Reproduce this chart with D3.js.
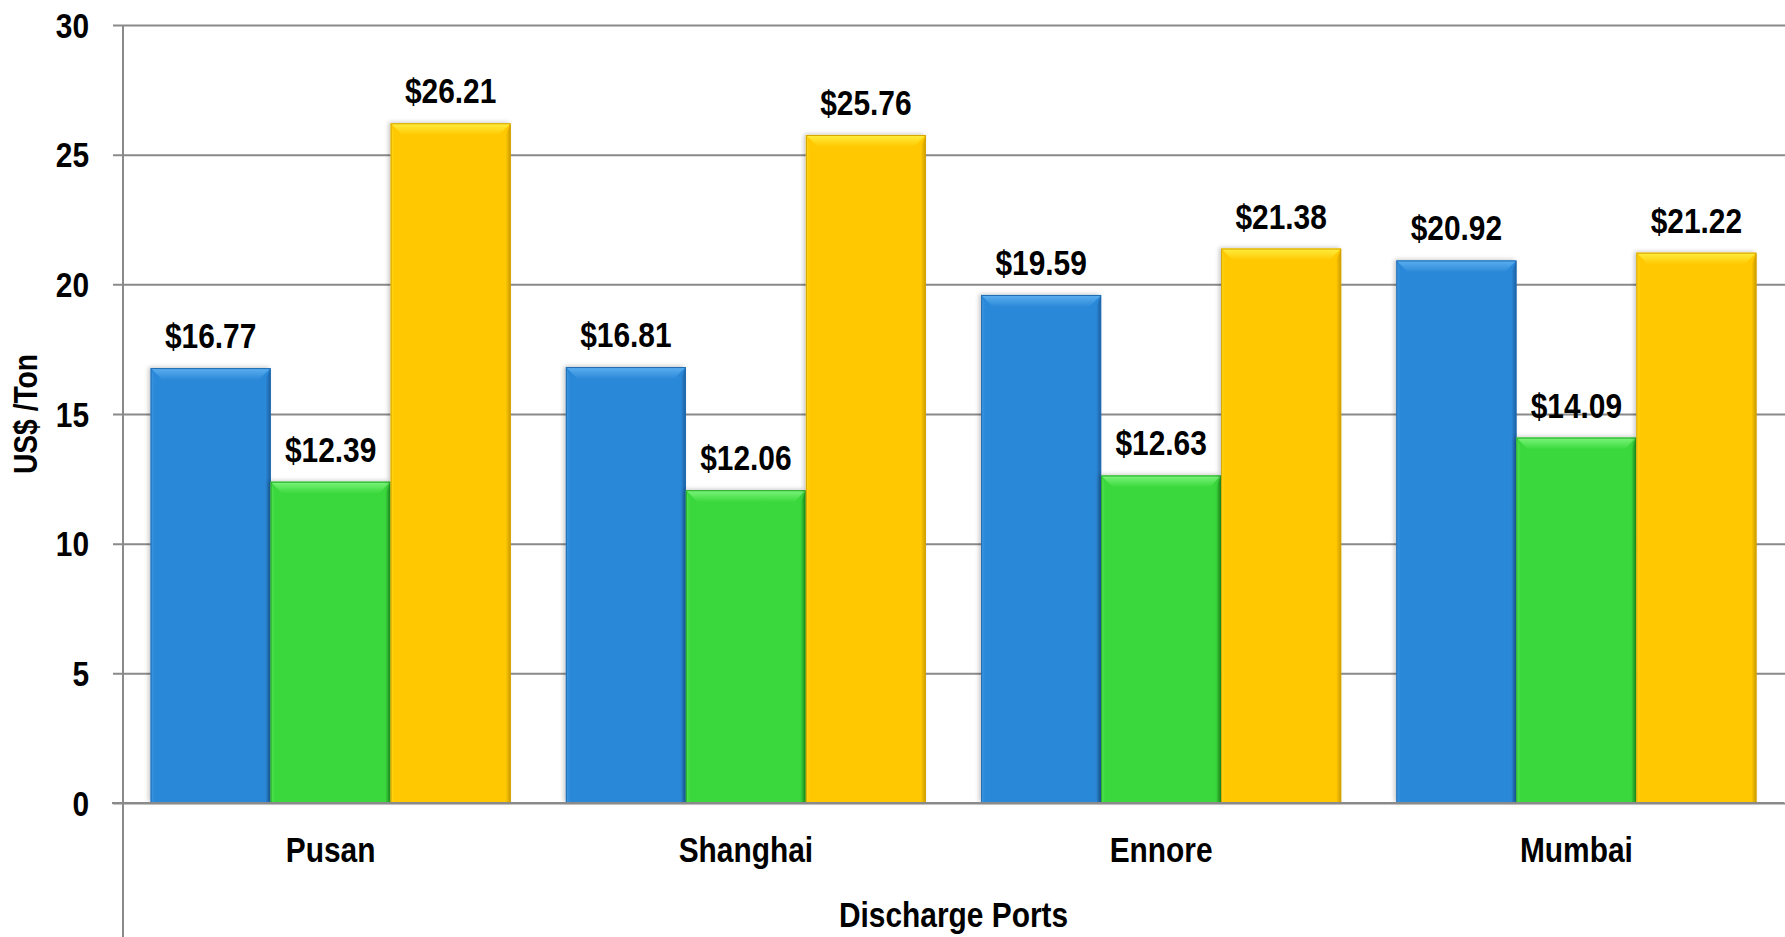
<!DOCTYPE html>
<html>
<head>
<meta charset="utf-8">
<script src="https://cdn.jsdelivr.net/npm/d3@7"></script>
<style>
  html, body { margin: 0; padding: 0; background: #fff; }
  svg { display: block; }
  text { font-family: "Liberation Sans Narrow", "Arial Narrow", "Liberation Sans", Arial, sans-serif; font-weight: bold; fill: #000; }
</style>
</head>
<body>
<script>
// Freight cost per ton to each discharge port
const ports = ["Pusan", "Shanghai", "Ennore", "Mumbai"];
const seriesKeys = ["a", "b", "c"];
const valuesA = [16.77, 16.81, 19.59, 20.92];
const valuesB = [12.39, 12.06, 12.63, 14.09];
const valuesC = [26.21, 25.76, 21.38, 21.22];
const yTicks = [0, 5, 10, 15, 20, 25, 30];
const yTitle = "US$ /Ton";
const xTitle = "Discharge Ports";

const palette = {
  a: { base: "#2B88D8", light: "#5DB0F0", dark: "#1B5E9E", line: "#1F6BB0" },
  b: { base: "#3AD83C", light: "#7CF57C", dark: "#1F9A22", line: "#26A828" },
  c: { base: "#FFC800", light: "#FFEE40", dark: "#C99A00", line: "#D4A300" }
};

const rows = ports.map((p, i) => ({ port: p, a: valuesA[i], b: valuesB[i], c: valuesC[i] }));

const W = 1785, H = 937;
const plot = { left: 123, right: 1784, top: 25, bottom: 803 };
const NARROW = 0.83; // horizontal squeeze giving a condensed bold face

// Places a text element at (x, y) with the condensed squeeze applied
function narrowText(sel, x, y, rot) {
  sel.attr("transform", (d, i, n) => {
    const px = typeof x === "function" ? x(d, i, n) : x;
    const py = typeof y === "function" ? y(d, i, n) : y;
    return `translate(${px},${py})` + (rot ? ` rotate(${rot})` : "") + ` scale(${NARROW},1)`;
  });
}

const svg = d3.select("body").append("svg").attr("width", W).attr("height", H);
const defs = svg.append("defs");

const shadow = defs.append("filter").attr("id", "barShadow")
  .attr("x", "-10%").attr("y", "-10%").attr("width", "120%").attr("height", "120%");
shadow.append("feDropShadow").attr("dx", -2).attr("dy", -1).attr("stdDeviation", 2.2)
  .attr("flood-color", "#000").attr("flood-opacity", 0.22);

seriesKeys.forEach(k => {
  const c = palette[k];
  const gt = defs.append("linearGradient").attr("id", "top-" + k).attr("x1", 0).attr("y1", 0).attr("x2", 0).attr("y2", 1);
  gt.append("stop").attr("offset", "0%").attr("stop-color", c.light);
  gt.append("stop").attr("offset", "100%").attr("stop-color", c.base);
  const gr = defs.append("linearGradient").attr("id", "right-" + k).attr("x1", 0).attr("y1", 0).attr("x2", 1).attr("y2", 0);
  gr.append("stop").attr("offset", "0%").attr("stop-color", c.base);
  gr.append("stop").attr("offset", "100%").attr("stop-color", c.dark);
  const gl = defs.append("linearGradient").attr("id", "left-" + k).attr("x1", 0).attr("y1", 0).attr("x2", 1).attr("y2", 0);
  gl.append("stop").attr("offset", "0%").attr("stop-color", c.light).attr("stop-opacity", 0.6);
  gl.append("stop").attr("offset", "100%").attr("stop-color", c.base).attr("stop-opacity", 0);
});

const x0 = d3.scaleBand().domain(ports).range([plot.left, plot.right]).paddingInner(0).paddingOuter(0);
const x1 = d3.scaleBand().domain(seriesKeys).range([0, x0.bandwidth()]).paddingInner(0).paddingOuter(0.23);
const y = d3.scaleLinear().domain([0, 30]).range([plot.bottom, plot.top]);

// Gridlines and y tick labels
const yAxis = d3.axisLeft(y).tickValues(yTicks).tickSize(plot.right - plot.left + 11).tickFormat(d3.format("d")).tickPadding(23);
const gy = svg.append("g").attr("transform", `translate(${W},0)`).call(yAxis);
gy.select(".domain").remove();
gy.selectAll(".tick line").attr("stroke", "#8a8a8a").attr("stroke-width", 2);
gy.selectAll(".tick text").attr("font-size", 36).attr("dy", "0.34em")
  .attr("x", null).attr("text-anchor", "end");
narrowText(gy.selectAll(".tick text"), -(W - 89), 0);

// Vertical axis line down through the category area
svg.append("line").attr("x1", plot.left).attr("x2", plot.left).attr("y1", plot.top).attr("y2", H)
  .attr("stroke", "#8a8a8a").attr("stroke-width", 2);

// Bars with bevelled edges
const bev = 12, side = 5;
const groups = svg.append("g").selectAll("g").data(rows).join("g")
  .attr("transform", d => `translate(${x0(d.port)},0)`);

const bars = groups.selectAll("g.bar").data(d => seriesKeys.map(k => ({ key: k, value: d[k] })))
  .join("g").attr("class", "bar");

bars.each(function(d) {
  const g = d3.select(this);
  const xa = x1(d.key), xb = xa + x1.bandwidth();
  const ya = y(d.value), yb = y(0);
  const c = palette[d.key];
  g.append("rect").attr("x", xa).attr("y", ya).attr("width", xb - xa).attr("height", yb - ya)
    .attr("fill", c.base).attr("filter", "url(#barShadow)");
  g.append("path").attr("fill", `url(#left-${d.key})`)
    .attr("d", `M${xa},${ya}L${xa + side},${ya + bev}L${xa + side},${yb}L${xa},${yb}Z`);
  g.append("path").attr("fill", `url(#right-${d.key})`)
    .attr("d", `M${xb},${ya}L${xb - side},${ya + bev}L${xb - side},${yb}L${xb},${yb}Z`);
  g.append("path").attr("fill", `url(#top-${d.key})`)
    .attr("d", `M${xa},${ya}L${xb},${ya}L${xb - bev},${ya + bev}L${xa + bev},${ya + bev}Z`);
  g.append("rect").attr("x", xa + 0.5).attr("y", ya + 0.5).attr("width", xb - xa - 1).attr("height", yb - ya - 1)
    .attr("fill", "none").attr("stroke", c.line).attr("stroke-width", 1);
});

// Value labels
const vl = bars.append("text")
  .attr("text-anchor", "middle").attr("font-size", 36)
  .text(d => "$" + d.value.toFixed(2));
narrowText(vl, d => x1(d.key) + x1.bandwidth() / 2, d => y(d.value) - 20);

// Baseline at zero
svg.append("line").attr("x1", plot.left - 11).attr("x2", plot.right).attr("y1", y(0)).attr("y2", y(0))
  .attr("stroke", "#8a8a8a").attr("stroke-width", 2);

// Category labels
const cl = svg.append("g").selectAll("text").data(ports).join("text")
  .attr("text-anchor", "middle").attr("font-size", 36).text(d => d);
narrowText(cl, d => x0(d) + x0.bandwidth() / 2, 862);

// Axis titles
narrowText(svg.append("text").attr("text-anchor", "middle").attr("font-size", 36).text(xTitle),
  (plot.left + plot.right) / 2, 927);
narrowText(svg.append("text").attr("text-anchor", "middle").attr("font-size", 34).text(yTitle),
  37, (plot.top + plot.bottom) / 2, -90);
</script>
</body>
</html>
